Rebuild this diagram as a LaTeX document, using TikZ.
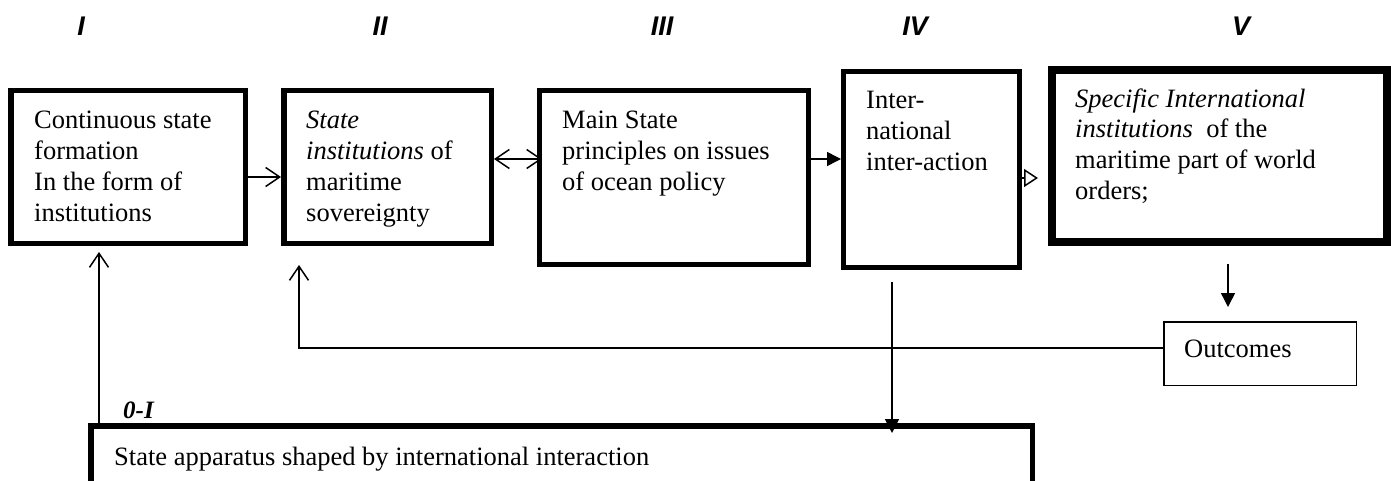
\documentclass[tikz,border=0pt]{standalone}
\usepackage{fontspec}
\setmainfont{Liberation Serif}
\newfontfamily\numfont{Liberation Sans}
\usetikzlibrary{arrows.meta}

\begin{document}
\begin{tikzpicture}[x=1pt,y=-1pt,
  box/.style={draw, rectangle, inner sep=0pt},
  txt/.style={anchor=north west, inner sep=0pt, align=left,
    font=\fontsize{26.5}{31}\selectfont},
  numeral/.style={anchor=base, inner sep=0pt,
    font=\numfont\bfseries\itshape\fontsize{27}{30}\selectfont},
  conn/.style={line width=1.5pt},
  barb/.tip={Straight Barb[length=14pt,width=19pt]},
  fillhead/.tip={Triangle[length=14pt,width=14pt]},
  opentri/.tip={Triangle[open,length=14pt,width=18pt]}
]
\useasboundingbox (0,0) rectangle (1391,481);
\clip (0,0) rectangle (1391,481);

% stage numerals
\node[numeral] (nI)   at (81,36)   {I};
\node[numeral] (nII)  at (380,36)  {II};
\node[numeral] (nIII) at (662,36)  {III};
\node[numeral] (nIV)  at (915,36)  {IV};
\node[numeral] (nV)   at (1241,36) {V};

% frames
\node[box, line width=5.5pt, minimum width=234.5pt, minimum height=152.5pt] (boxI)   at (128,167)    {};
\node[box, line width=5.5pt, minimum width=207.5pt, minimum height=152.5pt] (boxII)  at (387.5,167)  {};
\node[box, line width=5pt,   minimum width=269pt,   minimum height=174pt]   (boxIII) at (674,177.5)  {};
\node[box, line width=5pt,   minimum width=176pt,   minimum height=196pt]   (boxIV)  at (931.5,169.5) {};
\node[box, line width=8pt,   minimum width=335pt,   minimum height=172pt]   (boxV)   at (1219.5,156) {};
\node[box, line width=1.5pt, minimum width=192.5pt, minimum height=63.5pt]  (outc)   at (1260,353.5) {};
\node[box, line width=5.5pt, minimum width=941.5pt, minimum height=114pt]   (bottom) at (561.5,482.75) {};

% frame texts
\node[txt] (tI)   at (34,106.3)   {\strut Continuous state\\formation\\In the form of\\institutions};
\node[txt] (tII)  at (306,106.3)  {\strut\textit{State}\\\textit{institutions} of\\maritime\\sovereignty};
\node[txt] (tIII) at (562,106.3)  {\strut Main State\\principles on issues\\of ocean policy};
\node[txt] (tIV)  at (866,86.3)   {\strut Inter-\\national\\inter-action};
\node[txt, font=\fontsize{26.5}{30.7}\selectfont] (tV) at (1075,85.5)
  {\strut\textit{Specific International}\\\textit{institutions}\ \ of the\\maritime part of world\\orders;};
\node[anchor=base west, inner sep=0pt, font=\fontsize{26.5}{31}\selectfont] (tOut) at (1184,357) {Outcomes};
\node[anchor=base west, inner sep=0pt, font=\fontsize{26.5}{31}\selectfont] (tBot) at (114,465) {State apparatus shaped by international interaction};
\node[anchor=base west, inner sep=0pt, font=\bfseries\itshape\fontsize{25}{28}\selectfont] (zeroI) at (123,418) {0-I};

% reference levels for the connectors
\coordinate (h177) at (0,177);
\coordinate (h159) at (0,159);
\coordinate (h178) at (0,178);
\coordinate (h348) at (0,348);
\coordinate (v99)   at (99,0);
\coordinate (v299)  at (299,0);
\coordinate (v892)  at (892,0);
\coordinate (v1228) at (1228,0);

% connectors
\draw[conn, -barb] (boxI.east |- h177) -- (boxII.west |- h177);
\draw[conn, barb-barb, shorten >=-5pt] (boxII.east |- h159) -- (boxIII.west |- h159);
\draw[conn, -fillhead] (boxIII.east |- h159) -- (boxIV.west |- h159);
\draw[conn, -opentri, shorten >=10pt] (boxIV.east |- h178) -- (boxV.west |- h178);
\draw[conn, -fillhead, shorten <=18pt, shorten >=14pt] (boxV.south -| v1228) -- (outc.north -| v1228);
\draw[conn, -barb, shorten >=19pt] (outc.west |- h348) -| (boxII.south -| v299);
\draw[conn, -fillhead, shorten <=12pt, shorten >=-10pt] (boxIV.south -| v892) -- (bottom.north -| v892);
\draw[conn, -barb, shorten >=6pt] (bottom.north -| v99) -- (boxI.south -| v99);
\end{tikzpicture}
\end{document}
